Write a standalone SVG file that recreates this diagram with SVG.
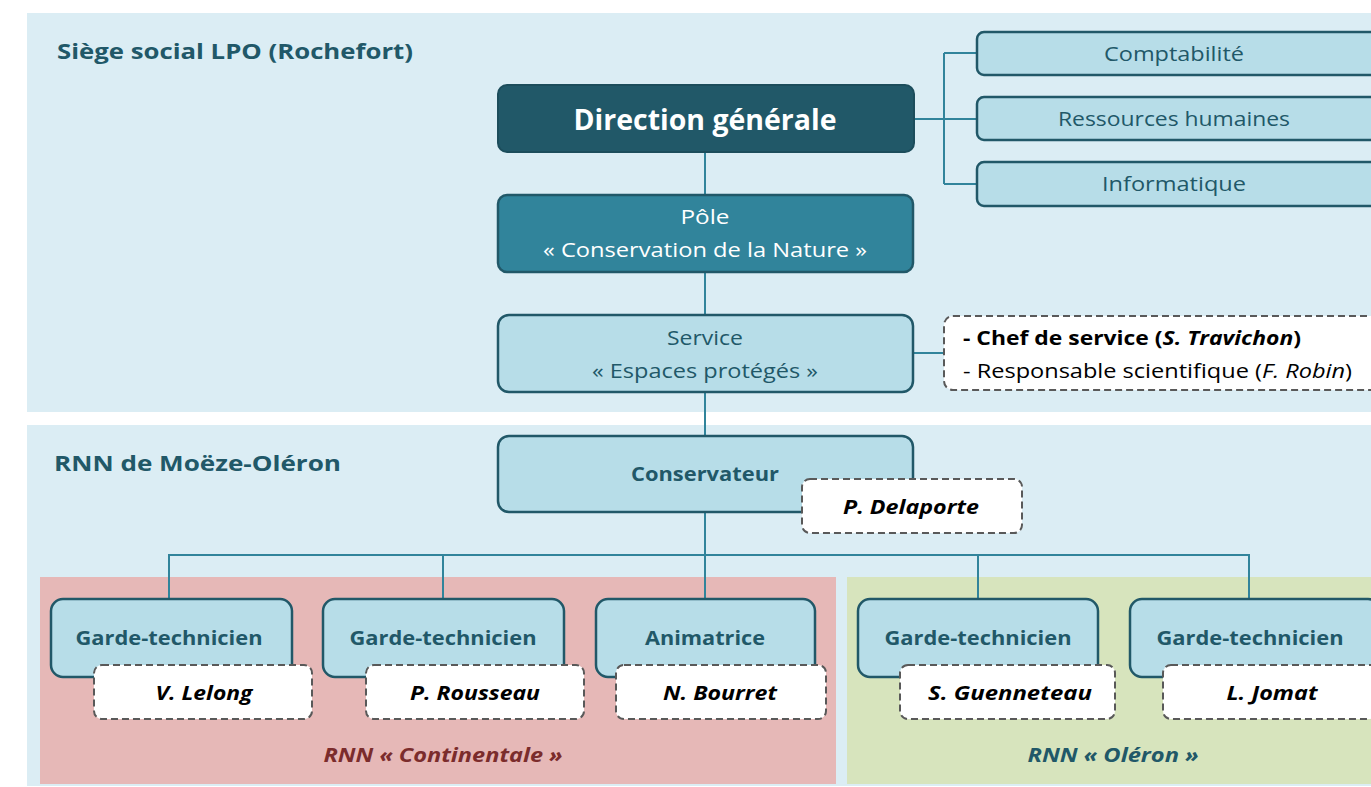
<svg xmlns="http://www.w3.org/2000/svg" width="1371" height="787" viewBox="0 0 1371 787">
<style>
text{font-family:"Open Sans","Noto Sans","Liberation Sans",sans-serif;}
.box{fill:#b7dde8;stroke:#215868;stroke-width:2.5;}
.name{fill:#ffffff;stroke:#595959;stroke-width:2;stroke-dasharray:7 4;}
.lbl{font-size:20px;font-weight:bold;fill:#215868;text-anchor:middle;}
.reg{font-size:20px;fill:#215868;text-anchor:middle;}
.nm{font-size:20px;font-weight:bold;font-style:italic;fill:#000;text-anchor:middle;}
.con{stroke:#31849b;stroke-width:2;fill:none;}
</style>
<rect x="0" y="0" width="1371" height="787" fill="#ffffff"/>
<g id="panels">
<rect x="27" y="13" width="1344" height="399" fill="#dbedf4"/>
<rect x="27" y="425" width="1344" height="361" fill="#dbedf4"/>
<rect x="40" y="577" width="796" height="207" fill="#e6b8b7"/>
<rect x="847" y="577" width="524" height="207" fill="#d7e4bd"/>
<text x="57" y="59" font-size="22" font-weight="bold" fill="#215868" textLength="356" lengthAdjust="spacingAndGlyphs">Siège social LPO (Rochefort)</text>
<text x="54" y="471" font-size="22" font-weight="bold" fill="#215868" textLength="287" lengthAdjust="spacingAndGlyphs">RNN de Moëze-Oléron</text>
<text x="443" y="762" font-size="20" font-weight="bold" font-style="italic" fill="#7b2c2c" text-anchor="middle" textLength="239" lengthAdjust="spacingAndGlyphs">RNN « Continentale »</text>
<text x="1113" y="762" font-size="20" font-weight="bold" font-style="italic" fill="#215868" text-anchor="middle" textLength="171" lengthAdjust="spacingAndGlyphs">RNN « Oléron »</text>
</g>
<g id="connectors">
<path class="con" d="M705 152V195M705 272V315M705 392V436M705 512V555"/>
<path class="con" d="M914 119H944M944 53V184M944 53H977M944 119H977M944 184H977"/>
<path class="con" d="M913 353H944"/>
<path class="con" d="M169 599V555H1249V599M443 555V599M705 555V599M978 555V599"/>
</g>
<g id="direction">
<rect x="498" y="85" width="416" height="67" rx="9" fill="#215868" stroke="#1c4d5b" stroke-width="2"/>
<text x="705" y="130" font-size="28" font-weight="bold" fill="#ffffff" text-anchor="middle" textLength="263" lengthAdjust="spacingAndGlyphs">Direction générale</text>
</g>
<g id="comptabilite">
<rect class="box" x="977" y="32" width="400" height="43" rx="7"/>
<text class="reg" x="1174" y="61" textLength="140" lengthAdjust="spacingAndGlyphs">Comptabilité</text>
</g>
<g id="rh">
<rect class="box" x="977" y="97" width="400" height="43" rx="7"/>
<text class="reg" x="1174" y="126" textLength="232" lengthAdjust="spacingAndGlyphs">Ressources humaines</text>
</g>
<g id="informatique">
<rect class="box" x="977" y="162" width="400" height="44" rx="7"/>
<text class="reg" x="1174" y="191" textLength="144" lengthAdjust="spacingAndGlyphs">Informatique</text>
</g>
<g id="pole">
<rect x="498" y="195" width="415" height="77" rx="9" fill="#31849b" stroke="#215868" stroke-width="2.5"/>
<text x="705" y="224" font-size="20" fill="#ffffff" text-anchor="middle" textLength="49" lengthAdjust="spacingAndGlyphs">Pôle</text>
<text x="705" y="257" font-size="20" fill="#ffffff" text-anchor="middle" textLength="324" lengthAdjust="spacingAndGlyphs">« Conservation de la Nature »</text>
</g>
<g id="service">
<rect class="box" x="498" y="315" width="415" height="77" rx="11"/>
<text class="reg" x="705" y="345" textLength="76" lengthAdjust="spacingAndGlyphs">Service</text>
<text class="reg" x="705" y="378" textLength="226" lengthAdjust="spacingAndGlyphs">« Espaces protégés »</text>
</g>
<g id="chef">
<rect class="name" x="944" y="316" width="440" height="74" rx="9"/>
<text x="963" y="345" font-size="20" font-weight="bold" fill="#000" textLength="338" lengthAdjust="spacingAndGlyphs">- Chef de service (<tspan font-style="italic">S. Travichon</tspan>)</text>
<text x="963" y="378" font-size="20" fill="#000" textLength="389" lengthAdjust="spacingAndGlyphs">- Responsable scientifique (<tspan font-style="italic">F. Robin</tspan>)</text>
</g>
<g id="conservateur">
<rect class="box" x="498" y="436" width="415" height="76" rx="11"/>
<text class="lbl" x="705" y="481" textLength="148" lengthAdjust="spacingAndGlyphs">Conservateur</text>
</g>
<g id="delaporte">
<rect class="name" x="802" y="479" width="220" height="54" rx="8"/>
<text class="nm" x="911" y="514" textLength="136" lengthAdjust="spacingAndGlyphs">P. Delaporte</text>
</g>
<g id="gt1">
<rect class="box" x="51" y="599" width="241" height="78" rx="12"/>
<text class="lbl" x="169" y="645" textLength="187" lengthAdjust="spacingAndGlyphs">Garde-technicien</text>
</g>
<g id="lelong">
<rect class="name" x="94" y="665" width="218" height="54" rx="8"/>
<text class="nm" x="204" y="700" textLength="97" lengthAdjust="spacingAndGlyphs">V. Lelong</text>
</g>
<g id="gt2">
<rect class="box" x="323" y="599" width="241" height="78" rx="12"/>
<text class="lbl" x="443" y="645" textLength="187" lengthAdjust="spacingAndGlyphs">Garde-technicien</text>
</g>
<g id="rousseau">
<rect class="name" x="366" y="665" width="218" height="54" rx="8"/>
<text class="nm" x="475" y="700" textLength="130" lengthAdjust="spacingAndGlyphs">P. Rousseau</text>
</g>
<g id="animatrice">
<rect class="box" x="596" y="599" width="219" height="78" rx="12"/>
<text class="lbl" x="705" y="645" textLength="120" lengthAdjust="spacingAndGlyphs">Animatrice</text>
</g>
<g id="bourret">
<rect class="name" x="616" y="665" width="210" height="54" rx="8"/>
<text class="nm" x="720" y="700" textLength="114" lengthAdjust="spacingAndGlyphs">N. Bourret</text>
</g>
<g id="gt3">
<rect class="box" x="858" y="599" width="240" height="78" rx="12"/>
<text class="lbl" x="978" y="645" textLength="187" lengthAdjust="spacingAndGlyphs">Garde-technicien</text>
</g>
<g id="guenneteau">
<rect class="name" x="900" y="665" width="215" height="54" rx="8"/>
<text class="nm" x="1010" y="700" textLength="164" lengthAdjust="spacingAndGlyphs">S. Guenneteau</text>
</g>
<g id="gt4">
<rect class="box" x="1130" y="599" width="250" height="78" rx="12"/>
<text class="lbl" x="1250" y="645" textLength="187" lengthAdjust="spacingAndGlyphs">Garde-technicien</text>
</g>
<g id="jomat">
<rect class="name" x="1163" y="665" width="220" height="54" rx="8"/>
<text class="nm" x="1272" y="700" textLength="91" lengthAdjust="spacingAndGlyphs">L. Jomat</text>
</g>
</svg>
